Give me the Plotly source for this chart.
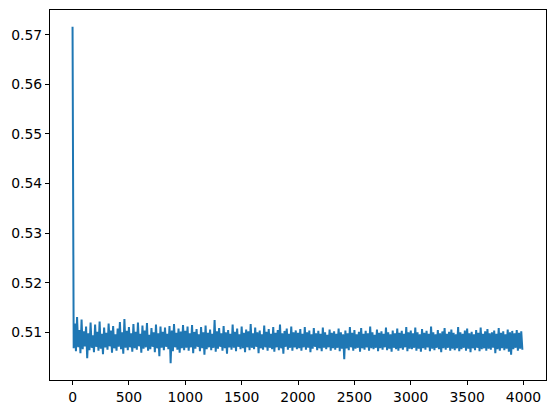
import plotly.graph_objects as go

# valores, un punto cada 10 iteraciones
loss_0_990 = [
    0.5716, 0.5068, 0.5118, 0.5062, 0.5131, 0.5070, 0.5105, 0.5058, 0.5126, 0.5066,
    0.5102, 0.5072, 0.5112, 0.5048, 0.5098, 0.5064, 0.5120, 0.5069, 0.5094, 0.5060,
    0.5116, 0.5071, 0.5101, 0.5063, 0.5122, 0.5067, 0.5097, 0.5056, 0.5110, 0.5070,
    0.5099, 0.5065, 0.5118, 0.5072, 0.5104, 0.5059, 0.5113, 0.5068, 0.5096, 0.5063,
    0.5108, 0.5071, 0.5121, 0.5066, 0.5100, 0.5057, 0.5127, 0.5069, 0.5103, 0.5064,
    0.5111, 0.5070, 0.5098, 0.5061, 0.5117, 0.5068, 0.5101, 0.5065, 0.5120, 0.5072,
    0.5097, 0.5059, 0.5114, 0.5067, 0.5104, 0.5070, 0.5119, 0.5063, 0.5095, 0.5066,
    0.5109, 0.5071, 0.5100, 0.5060, 0.5116, 0.5068, 0.5098, 0.5052, 0.5112, 0.5069,
    0.5101, 0.5064, 0.5110, 0.5071, 0.5097, 0.5066, 0.5113, 0.5038, 0.5104, 0.5062,
    0.5117, 0.5070, 0.5099, 0.5065, 0.5108, 0.5059, 0.5102, 0.5068, 0.5115, 0.5064,
]
loss_1000_1990 = [
    0.5103, 0.5069, 0.5112, 0.5063, 0.5098, 0.5070, 0.5115, 0.5058, 0.5101, 0.5067,
    0.5107, 0.5071, 0.5096, 0.5062, 0.5111, 0.5068, 0.5100, 0.5055, 0.5114, 0.5066,
    0.5099, 0.5070, 0.5106, 0.5064, 0.5097, 0.5069, 0.5125, 0.5061, 0.5102, 0.5067,
    0.5109, 0.5071, 0.5098, 0.5063, 0.5113, 0.5068, 0.5100, 0.5057, 0.5105, 0.5070,
    0.5097, 0.5065, 0.5116, 0.5069, 0.5101, 0.5062, 0.5108, 0.5071, 0.5096, 0.5066,
    0.5112, 0.5068, 0.5099, 0.5060, 0.5106, 0.5070, 0.5102, 0.5064, 0.5117, 0.5069,
    0.5098, 0.5066, 0.5110, 0.5071, 0.5100, 0.5058, 0.5104, 0.5068, 0.5096, 0.5065,
    0.5114, 0.5070, 0.5101, 0.5063, 0.5107, 0.5069, 0.5097, 0.5066, 0.5111, 0.5061,
    0.5099, 0.5070, 0.5105, 0.5064, 0.5116, 0.5068, 0.5098, 0.5057, 0.5103, 0.5071,
    0.5108, 0.5065, 0.5097, 0.5069, 0.5112, 0.5063, 0.5100, 0.5070, 0.5104, 0.5066,
]
loss_2000_2990 = [
    0.5099, 0.5068, 0.5107, 0.5063, 0.5097, 0.5070, 0.5111, 0.5065, 0.5100, 0.5069,
    0.5104, 0.5060, 0.5096, 0.5067, 0.5109, 0.5071, 0.5098, 0.5064, 0.5103, 0.5068,
    0.5097, 0.5062, 0.5110, 0.5069, 0.5100, 0.5066, 0.5095, 0.5070, 0.5106, 0.5063,
    0.5099, 0.5068, 0.5102, 0.5065, 0.5097, 0.5069, 0.5108, 0.5062, 0.5100, 0.5067,
    0.5096, 0.5046, 0.5104, 0.5068, 0.5098, 0.5064, 0.5111, 0.5070, 0.5099, 0.5063,
    0.5105, 0.5067, 0.5096, 0.5069, 0.5101, 0.5061, 0.5109, 0.5068, 0.5097, 0.5065,
    0.5103, 0.5070, 0.5098, 0.5063, 0.5112, 0.5068, 0.5100, 0.5066, 0.5095, 0.5069,
    0.5106, 0.5062, 0.5099, 0.5068, 0.5102, 0.5065, 0.5097, 0.5070, 0.5110, 0.5064,
    0.5100, 0.5067, 0.5096, 0.5061, 0.5104, 0.5069, 0.5098, 0.5066, 0.5108, 0.5063,
    0.5099, 0.5068, 0.5103, 0.5065, 0.5097, 0.5070, 0.5111, 0.5062, 0.5100, 0.5067,
]
loss_3000_3990 = [
    0.5104, 0.5066, 0.5098, 0.5069, 0.5110, 0.5063, 0.5100, 0.5067, 0.5096, 0.5061,
    0.5107, 0.5068, 0.5099, 0.5065, 0.5103, 0.5070, 0.5097, 0.5062, 0.5112, 0.5067,
    0.5100, 0.5064, 0.5096, 0.5069, 0.5105, 0.5066, 0.5098, 0.5060, 0.5102, 0.5068,
    0.5109, 0.5065, 0.5097, 0.5069, 0.5101, 0.5063, 0.5106, 0.5067, 0.5099, 0.5064,
    0.5096, 0.5068, 0.5111, 0.5062, 0.5100, 0.5066, 0.5097, 0.5069, 0.5104, 0.5063,
    0.5108, 0.5067, 0.5098, 0.5060, 0.5101, 0.5068, 0.5096, 0.5064, 0.5105, 0.5069,
    0.5099, 0.5062, 0.5110, 0.5066, 0.5097, 0.5068, 0.5102, 0.5063, 0.5107, 0.5067,
    0.5098, 0.5065, 0.5100, 0.5069, 0.5104, 0.5058, 0.5097, 0.5066, 0.5109, 0.5063,
    0.5099, 0.5068, 0.5102, 0.5064, 0.5096, 0.5067, 0.5106, 0.5061, 0.5100, 0.5055,
    0.5103, 0.5066, 0.5098, 0.5069, 0.5105, 0.5063, 0.5099, 0.5067, 0.5102, 0.5065,
]

loss = loss_0_990 + loss_1000_1990 + loss_2000_2990 + loss_3000_3990
iteraciones = list(range(0, 10 * len(loss), 10))

fig = go.Figure()
fig.add_scatter(x=iteraciones, y=loss, mode="lines",
                line=dict(color="#1f77b4", width=2))

ejes = dict(showgrid=False, zeroline=False, showline=True, mirror=True,
            linecolor="black", linewidth=1, ticks="outside", ticklen=4,
            tickcolor="black", automargin=False,
            tickfont=dict(size=13.9, color="black"))

fig.update_xaxes(range=[-200, 4199.5], tickmode="array",
                 tickvals=[0, 500, 1000, 1500, 2000, 2500, 3000, 3500, 4000], **ejes)
fig.update_yaxes(range=[0.50041, 0.57499], tickmode="array",
                 tickvals=[0.51, 0.52, 0.53, 0.54, 0.55, 0.56, 0.57],
                 tickformat=".2f", **ejes)

fig.update_layout(width=556, height=413, showlegend=False,
                  margin=dict(l=50, r=10, t=10, b=33),
                  plot_bgcolor="white", paper_bgcolor="white",
                  font=dict(family="DejaVu Sans", color="black"))

# quita el margen por defecto del body para que el grafico quede en (0,0)
fig.write_html("out.html", config={"displayModeBar": False},
               post_script="document.body.style.margin='0';")
